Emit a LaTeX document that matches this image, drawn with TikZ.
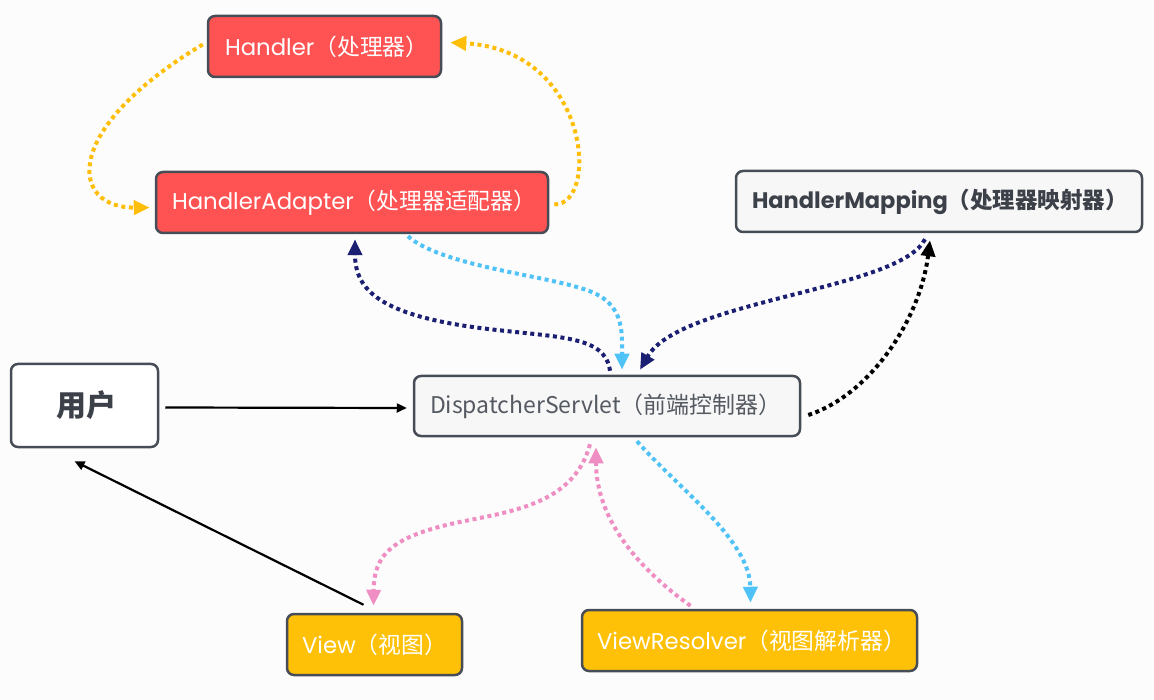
\documentclass[tikz,border=0pt]{standalone}
\usepackage{fontspec}
\setmainfont{Poppins}
\newfontfamily\cjk{Noto Sans CJK SC}
\usetikzlibrary{arrows.meta,calc}
\definecolor{bg}{HTML}{FCFCFC}
\definecolor{edge}{HTML}{474D57}
\definecolor{redbox}{HTML}{FF5353}
\definecolor{amber}{HTML}{FFC107}
\definecolor{lightbox}{HTML}{F7F7F7}
\definecolor{yel}{HTML}{FFBE0A}
\definecolor{navy}{HTML}{1A1F71}
\definecolor{sky}{HTML}{4FC3F7}
\definecolor{pink}{HTML}{EE8EC2}
\definecolor{dstext}{HTML}{555A62}
\definecolor{hmtext}{HTML}{3C4048}
\tikzset{
  box/.style={draw=edge,line width=2.5pt,rounded corners=7pt,minimum height=61pt,inner ysep=0pt,align=left,font=\fontsize{22.8}{26}\selectfont},
  redstyle/.style={box,fill=redbox,text=white},
  amberstyle/.style={box,fill=amber,text=white},
  greystyle/.style={box,fill=lightbox},
  dots/.style={line width=4pt,dash pattern=on 4pt off 3.6pt,-{Triangle[length=16pt,width=14pt]}},
  solidarrow/.style={line width=2.2pt,-{Triangle[length=10pt,width=9pt]}}
}
\begin{document}
\begin{tikzpicture}[x=1pt,y=-1pt]
\fill[bg] (0,0) rectangle (1154,700);
\useasboundingbox (0,0) rectangle (1154,700);

\node[redstyle,inner xsep=17pt,text width=199pt] (h) at (324.5,46.5) {Handler{\cjk（处理器）}};
\node[redstyle,inner xsep=16pt,text width=360pt] (ha) at (352,202.5) {HandlerAdapter{\cjk（处理器适配器）}};
\node[greystyle,inner xsep=16pt,text width=374pt,text=hmtext,font=\fontsize{22.5}{26}\selectfont\bfseries] (hm) at (939,201.5) {HandlerMapping{\cjk\bfseries（处理器映射器）}};
\node[box,fill=white,minimum width=147pt,minimum height=83pt,text=hmtext,font=\fontsize{30}{34}\selectfont\cjk\bfseries] (user) at (84.5,405.5) {\kern5pt 用户};
\node[greystyle,inner xsep=16pt,text width=354pt,minimum height=60pt,text=dstext,font=\fontsize{23}{26}\selectfont\cjk] (ds) at (607,406) {DispatcherServlet（前端控制器）};
\node[amberstyle,inner xsep=15pt,text width=145pt] (view) at (374.5,644.5) {View{\cjk（视图）}};
\node[amberstyle,inner xsep=15pt,text width=305pt] (vr) at (749.5,640.5) {ViewResolver{\cjk（视图解析器）}};

% yellow
\draw[dots,yel] ($(h.west)+(-4,-2)$) .. controls (60,130) and (70,208) .. ($(ha.west)+(-5,5)$);
\draw[dots,yel] ($(ha.east)+(5,2)$) .. controls (600,205) and (590,50) .. ($(h.east)+(8,-4)$);
% navy DS -> HA
\draw[dots,navy] ($(ds.north)+(3,-4)$) .. controls (605,335) and (560,338) .. (480,328) .. controls (380,315) and (355,290) .. ($(ha.south)+(3,5)$);
% sky HA -> DS
\draw[dots,sky] ($(ha.south)+(56,2)$) .. controls (440,265) and (540,275) .. (580,288) .. controls (625,300) and (622,330) .. ($(ds.north)+(15,-5)$);
% navy HM -> DS
\draw[dots,navy] ($(hm.south)+(-14,6)$) .. controls (900,290) and (680,300) .. ($(ds.north)+(33,-5)$);
% black DS -> HM
\draw[dots,black] ($(ds.east)+(7,9)$) .. controls (870,395) and (920,320) .. ($(hm.south)+(-9,7)$);
% solid
\draw[solidarrow] ($(user.east)+(6,2)$) -- ($(ds.west)+(-6,2)$);
\draw[solidarrow] ($(view.north)+(-11,-8)$) -- ($(user.south)+(-10,13)$);
% pink DS -> View
\draw[dots,pink] ($(ds.south)+(-17,7)$) .. controls (575,500) and (520,510) .. (470,520) .. controls (390,535) and (374,555) .. ($(view.north)+(-1,-7)$);
% pink VR -> DS
\draw[dots,pink] ($(vr.north)+(-59,-3)$) .. controls (640,570) and (596,520) .. ($(ds.south)+(-11,10)$);
% sky DS -> VR
\draw[dots,sky] ($(ds.south)+(30,4)$) .. controls (680,490) and (750,540) .. ($(vr.north)+(1,-6)$);
\end{tikzpicture}
\end{document}
